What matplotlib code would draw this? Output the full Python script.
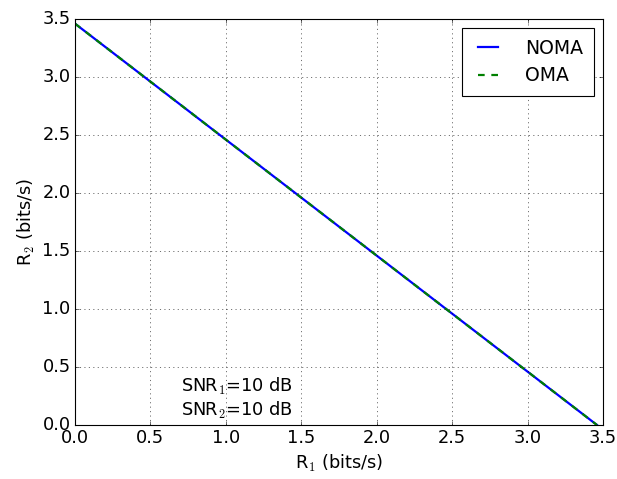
import matplotlib
matplotlib.use('Agg')
import matplotlib.pyplot as plt

# rate region boundary end points (bits/s)
noma_r1 = [0.0, 3.46]
noma_r2 = [3.46, 0.0]
oma_r1 = [0.0, 3.46]
oma_r2 = [3.46, 0.0]

plt.style.use('classic')
plt.rcParams['font.size'] = 16

fig = plt.figure(figsize=(617 / 80, 479 / 80), dpi=80)
ax = fig.add_axes([75 / 617, 1 - 425 / 479, 528 / 617, 406 / 479])

ax.plot(noma_r1, noma_r2, 'b-', lw=2, label='NOMA')
ax.plot(oma_r1, oma_r2, 'g--', lw=2, label='OMA')

ax.set_xlim(0, 3.5)
ax.set_ylim(0, 3.5)
ax.grid(True)
ax.set_xlabel('R$_1$ (bits/s)')
ax.set_ylabel('R$_2$ (bits/s)')
ax.text(0.7, 0.075, 'SNR$_1$=10 dB\nSNR$_2$=10 dB', fontsize=16)
ax.legend(loc='upper right', fontsize=17, handlelength=1.65, handletextpad=1.15,
          labelspacing=0.45, borderpad=0.55, borderaxespad=0.5)

fig.savefig('out.png', dpi=80)
